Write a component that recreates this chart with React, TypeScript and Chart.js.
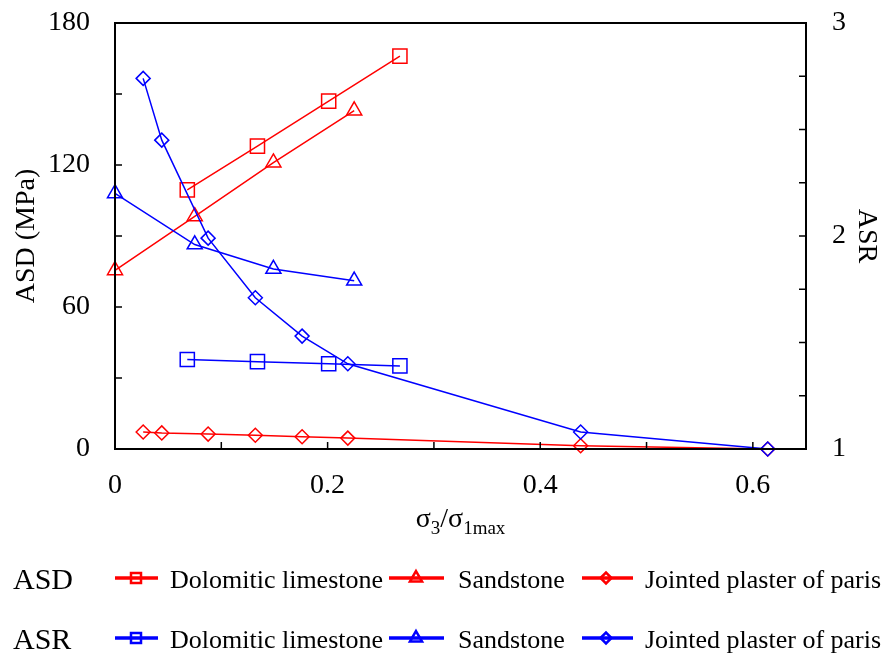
import React, { useEffect, useRef } from "react";
import { Chart, registerables } from "chart.js";

Chart.register(...registerables);

const FONT = "'Liberation Serif', 'Times New Roman', Times, serif";
const RED = "#ff0000";
const BLUE = "#0000ff";

// ---- data ----
const doloX = [0.068, 0.134, 0.201, 0.268];
const doloASD = [109.5, 128, 147, 166];
const doloASR = [1.42, 1.41, 1.4, 1.39];

const sandX = [0, 0.075, 0.149, 0.225];
const sandASD = [75.5, 98.3, 121, 143];
const sandASR = [2.2, 1.96, 1.845, 1.79];

const jointX = [0.0265, 0.044, 0.0876, 0.132, 0.176, 0.219, 0.438, 0.614];
const jointASD = [7.2, 6.8, 6.3, 5.8, 5.2, 4.6, 1.4, 0];
const jointASR = [2.74, 2.45, 1.99, 1.71, 1.53, 1.4, 1.08, 1.0];

const seriesNames = ["Dolomitic limestone", "Sandstone", "Jointed plaster of paris"];
const groupNames = ["ASD", "ASR"];

// ---- ticks ----
const xTicks = [0, 0.2, 0.4, 0.6];
const xTickLabels = ["0", "0.2", "0.4", "0.6"];
const asdTicks = [0, 60, 120, 180];
const asdTickLabels = ["0", "60", "120", "180"];
const asrTicks = [1, 2, 3];
const asrTickLabels = ["1", "2", "3"];
const xMinor = [0.1, 0.2, 0.3, 0.4, 0.5, 0.6];
const asdMinor = [30, 60, 90, 120, 150];
const asrMinor = [1.25, 1.5, 1.75, 2, 2.25, 2.5, 2.75];

const pts = (xs: number[], ys: number[]) => xs.map((x, i) => ({ x, y: ys[i] }));

const shapes = ["rect", "triangle", "rectRot"];
const radii = [10, 8.7, 7];

function drawShape(ctx: CanvasRenderingContext2D, shape: string, x: number, y: number, r: number) {
  ctx.beginPath();
  if (shape === "rect") {
    ctx.rect(x - r, y - r, 2 * r, 2 * r);
  } else if (shape === "triangle") {
    ctx.moveTo(x, y - r);
    ctx.lineTo(x + r * 0.866, y + r * 0.5);
    ctx.lineTo(x - r * 0.866, y + r * 0.5);
    ctx.closePath();
  } else {
    ctx.moveTo(x - r, y);
    ctx.lineTo(x, y - r);
    ctx.lineTo(x + r, y);
    ctx.lineTo(x, y + r);
    ctx.closePath();
  }
  ctx.stroke();
}

const decorPlugin = {
  id: "decor",
  afterDraw(chart: any) {
    const ctx: CanvasRenderingContext2D = chart.ctx;
    const { left, right, top, bottom } = chart.chartArea;
    const xs = chart.scales.x;
    const ys = chart.scales.y;
    const y2 = chart.scales.y2;
    ctx.save();
    // frame
    ctx.strokeStyle = "#000";
    ctx.lineWidth = 2;
    ctx.strokeRect(left, top, right - left, bottom - top);
    // inward ticks
    ctx.lineWidth = 1.5;
    const TL = 7;
    ctx.beginPath();
    xMinor.forEach((v) => {
      const p = xs.getPixelForValue(v);
      ctx.moveTo(p, bottom);
      ctx.lineTo(p, bottom - TL);
    });
    asdMinor.forEach((v) => {
      const p = ys.getPixelForValue(v);
      ctx.moveTo(left, p);
      ctx.lineTo(left + TL, p);
    });
    asrMinor.forEach((v) => {
      const p = y2.getPixelForValue(v);
      ctx.moveTo(right, p);
      ctx.lineTo(right - TL, p);
    });
    ctx.stroke();

    // x-axis title with subscripts
    const parts = [
      { t: "\u03c3", s: 28, dy: 0 },
      { t: "3", s: 19, dy: 7 },
      { t: "/", s: 28, dy: 0 },
      { t: "\u03c3", s: 28, dy: 0 },
      { t: "1max", s: 19, dy: 7 },
    ];
    let total = 0;
    parts.forEach((p) => {
      ctx.font = `${p.s}px ${FONT}`;
      total += ctx.measureText(p.t).width;
    });
    let cx = (left + right) / 2 - total / 2;
    const base = 527;
    ctx.fillStyle = "#000";
    ctx.textBaseline = "alphabetic";
    ctx.textAlign = "left";
    parts.forEach((p) => {
      ctx.font = `${p.s}px ${FONT}`;
      ctx.fillText(p.t, cx, base + p.dy);
      cx += ctx.measureText(p.t).width;
    });

    // legend
    const rows = [
      { color: RED, baseline: 588, lineY: 578 },
      { color: BLUE, baseline: 648, lineY: 638 },
    ];
    const items = [
      { x0: 115, x1: 158, mx: 136, tx: 170, r: 5 },
      { x0: 389, x1: 444, mx: 416, tx: 458, r: 7 },
      { x0: 582, x1: 633, mx: 606, tx: 645, r: 5.5 },
    ];
    rows.forEach((row, ri) => {
      ctx.fillStyle = "#000";
      ctx.font = `30px ${FONT}`;
      ctx.fillText(groupNames[ri], 13, row.baseline + 1);
      items.forEach((it, ii) => {
        ctx.strokeStyle = row.color;
        ctx.lineWidth = 3.5;
        ctx.beginPath();
        ctx.moveTo(it.x0, row.lineY);
        ctx.lineTo(it.x1, row.lineY);
        ctx.stroke();
        ctx.lineWidth = 2.5;
        drawShape(ctx, shapes[ii], it.mx, row.lineY, it.r);
        ctx.fillStyle = "#000";
        ctx.font = `26px ${FONT}`;
        ctx.fillText(seriesNames[ii], it.tx, row.baseline);
      });
    });
    ctx.restore();
  },
};

export default function App() {
  const ref = useRef<HTMLCanvasElement | null>(null);

  useEffect(() => {
    document.body.style.margin = "0";
    const canvas = ref.current;
    if (!canvas) return;

    const mk = (label: string, xsArr: number[], ysArr: number[], color: string, idx: number, axis: string) => ({
      label,
      data: pts(xsArr, ysArr),
      yAxisID: axis,
      borderColor: color,
      backgroundColor: "transparent",
      borderWidth: 1.5,
      pointStyle: shapes[idx],
      pointRadius: radii[idx],
      pointBorderWidth: 1.5,
      pointBorderColor: color,
      pointBackgroundColor: "transparent",
      showLine: true,
      tension: 0,
      clip: false,
    });

    // ASR series first so they are drawn on top of the ASD series
    const datasets = [
      mk("ASR " + seriesNames[0], doloX, doloASR, BLUE, 0, "y2"),
      mk("ASR " + seriesNames[1], sandX, sandASR, BLUE, 1, "y2"),
      mk("ASR " + seriesNames[2], jointX, jointASR, BLUE, 2, "y2"),
      mk("ASD " + seriesNames[0], doloX, doloASD, RED, 0, "y"),
      mk("ASD " + seriesNames[1], sandX, sandASD, RED, 1, "y"),
      mk("ASD " + seriesNames[2], jointX, jointASD, RED, 2, "y"),
    ];

    const tickFont = { family: FONT, size: 28 };
    const noPadV = (s: any) => {
      s.paddingTop = 0;
      s.paddingBottom = 0;
    };

    const chart = new Chart(canvas, {
      type: "scatter",
      data: { datasets } as any,
      options: {
        animation: false,
        responsive: false,
        layout: { padding: { left: 0, right: 0, top: 23, bottom: 0 } },
        plugins: { legend: { display: false }, tooltip: { enabled: false } },
        scales: {
          x: {
            type: "linear",
            position: "bottom",
            min: 0,
            max: 0.65,
            grid: { display: false, drawTicks: false },
            border: { display: false },
            ticks: {
              font: tickFont,
              color: "#000",
              padding: 20,
              maxRotation: 0,
              callback: (_v: any, i: number) => xTickLabels[i],
            },
            afterBuildTicks: (s: any) => {
              s.ticks = xTicks.map((v) => ({ value: v }));
            },
            afterFit: (s: any) => {
              s.height = 206;
              s.paddingLeft = 0;
              s.paddingRight = 0;
            },
          },
          y: {
            type: "linear",
            position: "left",
            min: 0,
            max: 180,
            grid: { display: false, drawTicks: false },
            border: { display: false },
            ticks: {
              font: tickFont,
              color: "#000",
              padding: 25,
              callback: (_v: any, i: number) => asdTickLabels[i],
            },
            title: {
              display: true,
              text: "ASD (MPa)",
              font: tickFont,
              color: "#000",
              padding: { top: 10, bottom: 0 },
            },
            afterBuildTicks: (s: any) => {
              s.ticks = asdTicks.map((v) => ({ value: v }));
            },
            afterFit: (s: any) => {
              s.width = 115;
              noPadV(s);
            },
          },
          y2: {
            type: "linear",
            position: "right",
            min: 1,
            max: 3,
            grid: { display: false, drawTicks: false },
            border: { display: false },
            ticks: {
              font: tickFont,
              color: "#000",
              padding: 26,
              callback: (_v: any, i: number) => asrTickLabels[i],
            },
            title: {
              display: true,
              text: "ASR",
              font: tickFont,
              color: "#000",
              padding: { top: 0, bottom: 0 },
            },
            afterBuildTicks: (s: any) => {
              s.ticks = asrTicks.map((v) => ({ value: v }));
            },
            afterFit: (s: any) => {
              s.width = 77;
              noPadV(s);
            },
          },
        },
      } as any,
      plugins: [decorPlugin],
    });

    return () => chart.destroy();
  }, []);

  return (
    <div style={{ width: 883, height: 655, background: "#fff" }}>
      <canvas ref={ref} width={883} height={655} style={{ width: 883, height: 655, display: "block" }} />
    </div>
  );
}
